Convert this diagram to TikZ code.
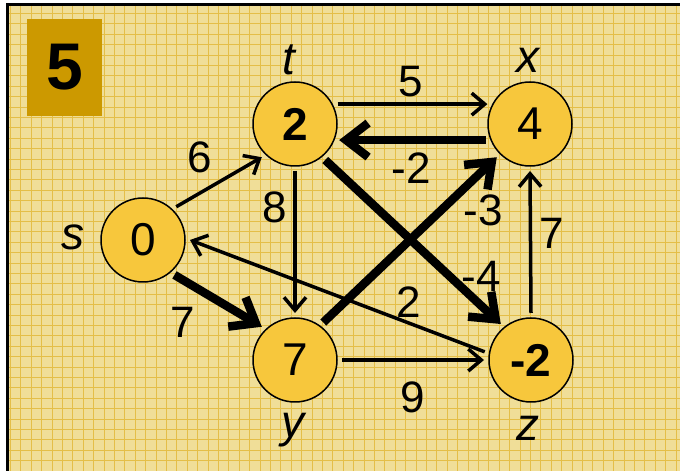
\documentclass[tikz,border=0pt]{standalone}
\usepackage{fontspec}
\setmainfont{Liberation Sans}
\usetikzlibrary{arrows.meta}

\definecolor{paper}{RGB}{240,222,152}
\definecolor{paperline}{RGB}{228,190,72}
\definecolor{vertexfill}{RGB}{247,199,60}
\definecolor{passbox}{RGB}{204,153,0}

\begin{document}
\begin{tikzpicture}[x=1pt, y=1pt,
    vertex/.style={circle, draw=black, line width=1.5pt, fill=vertexfill,
        minimum size=84pt, inner sep=0pt, outer sep=5pt,
        font=\fontsize{46}{48}\selectfont},
    vname/.style={font=\itshape\fontsize{46}{48}\selectfont, inner sep=0pt},
    weight/.style={font=\fontsize{44}{46}\selectfont, inner sep=0pt},
    light/.style={line width=3.5pt, -{Straight Barb[length=13pt,width=22pt]}},
    heavy/.style={line width=8.5pt, -{Straight Barb[length=22pt,width=34pt]}}]
    % Define grid spacing
    \def\gridstep{10.4}

    \useasboundingbox (0,0) rectangle (680,471);

    % Paper background with grid
    \fill[paper] (7,0) rectangle (680,466);
    \begin{scope}
        \clip (7,0) rectangle (680,466);
        \draw[paperline, line width=0.9pt, step=\gridstep pt] (0,0) grid (690,480);
    \end{scope}

    % Frame (left and top)
    \draw[line width=3pt] (7,-5) -- (7,466) -- (690,466);

    % Pass number box
    \node[fill=passbox, minimum width=75pt, minimum height=97pt, inner sep=0pt,
          font=\bfseries\fontsize{66}{68}\selectfont] (pass) at (64.5,403.5) {5};

    % Vertices
    \node[vertex] (s) at (143,231) {0};
    \node[vertex] (t) at (295,347) {\bfseries 2};
    \node[vertex] (x) at (530,347) {4};
    \node[vertex] (y) at (295,111) {7};
    \node[vertex] (z) at (531,111) {\bfseries -2};

    % Vertex names
    \node[vname] (sname) at (73,234) {s};
    \node[vname] (tname) at (289,411) {t};
    \node[vname] (xname) at (528,411) {x};
    \node[vname] (yname) at (293,41) {y};
    \node[vname] (zname) at (528,43) {z};

    % Edges: thin ones
    \draw[light] (s.45) -- (t.225);
    \draw[light] (t.25) -- (x.155);
    \draw[light] (t.-90) -- (y.90);
    \draw[light] (z.170) -- (s.0);
    \draw[light] (y.0) -- (z.180);
    \draw[light] (z.90) -- (x.-90);

    % Edges: thick ones (shortest path tree)
    \draw[heavy] (x.200) -- (t.-20);
    \draw[heavy] (t.-50) -- (z.130);
    \draw[heavy] (y.53) -- (x.225);
    \draw[heavy] (s.-48) -- (y.135);

    % Edge weights
    \node[weight] (wst) at (200,314) {6};
    \node[weight] (wtx) at (411,389) {5};
    \node[weight] (wxt) at (411,303) {-2};
    \node[weight] (wty) at (275,264) {8};
    \node[weight] (wyx) at (483,261) {-3};
    \node[weight] (wsy) at (183,149) {7};
    \node[weight] (wzs) at (409,169) {2};
    \node[weight] (wtz) at (481,195) {-4};
    \node[weight] (wzx) at (552,238) {7};
    \node[weight] (wyz) at (413,74) {9};
\end{tikzpicture}
\end{document}
